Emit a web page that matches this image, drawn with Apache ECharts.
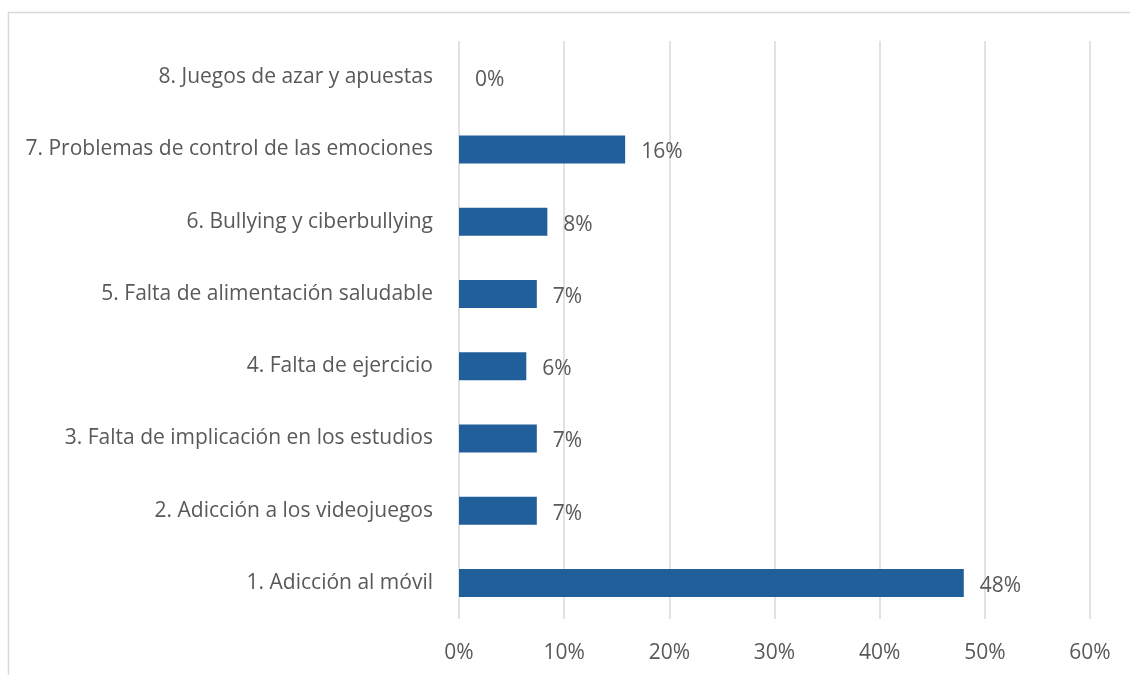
<!DOCTYPE html>
<html>
<head>
<meta charset="utf-8">
<script src="https://cdn.jsdelivr.net/npm/echarts@6/dist/echarts.min.js"></script>
<style>
  html, body { margin: 0; padding: 0; background: #ffffff; }
  #chart { width: 1130px; height: 675px; }
</style>
</head>
<body>
<div id="chart"></div>
<script>
// Problem categories, listed bottom to top
const categories = [
  '1. Adicción al móvil',
  '2. Adicción a los videojuegos',
  '3. Falta de implicación en los estudios',
  '4. Falta de ejercicio',
  '5. Falta de alimentación saludable',
  '6. Bullying y ciberbullying',
  '7. Problemas de control de las emociones',
  '8. Juegos de azar y apuestas'
];
// Share of responses (%)
const shares = [48.0, 7.4, 7.4, 6.4, 7.4, 8.4, 15.8, 0];
// Axis ticks (%)
const tickValues = [0, 10, 20, 30, 40, 50, 60];

const FONT = '"Open Sans", sans-serif';
const TEXT = '#595959';
const SIZE = 21;

const chart = echarts.init(document.getElementById('chart'));
chart.setOption({
  animation: false,
  backgroundColor: '#ffffff',
  graphic: [{
    type: 'rect',
    shape: { x: 8.5, y: 12.5, width: 1300, height: 900 },
    style: { fill: 'none', stroke: '#d9d9d9', lineWidth: 1.5 },
    silent: true
  }],
  grid: { left: 459, right: 40, top: 41, bottom: 56 },
  xAxis: {
    type: 'value',
    min: tickValues[0],
    max: tickValues[tickValues.length - 1],
    interval: 10,
    axisLine: { show: false },
    axisTick: { show: false },
    splitLine: { show: true, lineStyle: { color: '#d9d9d9', width: 1.5 } },
    axisLabel: {
      formatter: v => v + '%',
      color: TEXT, fontFamily: FONT, fontSize: SIZE, margin: 24
    }
  },
  yAxis: {
    type: 'category',
    data: categories,
    axisLine: { show: false },
    axisTick: { show: false },
    axisLabel: {
      color: TEXT, fontFamily: FONT, fontSize: SIZE, margin: 26,
      padding: [4, 0, 0, 0]
    }
  },
  series: [{
    type: 'bar',
    data: shares,
    barWidth: 28,
    itemStyle: { color: '#215F9A' },
    label: {
      show: true,
      position: 'right',
      distance: 16,
      offset: [0, 3],
      formatter: p => Math.round(p.value) + '%',
      color: TEXT, fontFamily: FONT, fontSize: SIZE
    }
  }]
});
</script>
</body>
</html>
